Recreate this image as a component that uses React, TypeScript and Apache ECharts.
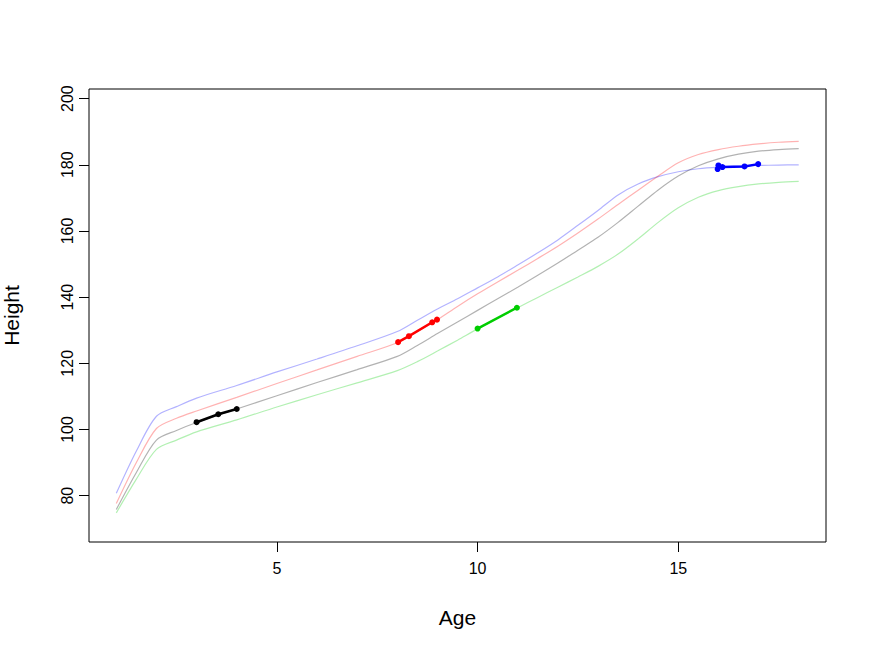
import React, { useEffect, useRef } from "react";
import * as echarts from "echarts";

// Reference growth curves (age in years, height in cm)
const curveAges = [1, 1.5, 2, 2.5, 3, 4, 5, 6, 7, 8, 8.5, 9, 9.5, 10, 10.5, 11, 11.5, 12, 12.5, 13, 13.5, 14, 14.5, 15, 15.5, 16, 16.5, 17, 17.5, 18];
const curveBlue = [80.7, 93.5, 104.0, 106.9, 109.5, 113.3, 117.4, 121.3, 125.3, 129.6, 133.0, 136.4, 139.5, 142.8, 146.1, 149.7, 153.4, 157.3, 161.7, 166.2, 170.9, 174.2, 176.4, 177.9, 178.8, 179.3, 179.6, 179.8, 179.9, 180.0];
const curveRed = [77.6, 90.0, 100.3, 103.4, 105.6, 109.7, 113.9, 118.0, 122.1, 126.2, 129.6, 133.2, 137.2, 141.0, 144.6, 148.1, 151.7, 155.4, 159.4, 163.6, 168.0, 172.3, 176.6, 180.6, 183.1, 184.6, 185.6, 186.3, 186.8, 187.1];
const curveGray = [75.8, 87.0, 96.8, 99.7, 102.1, 106.2, 110.2, 114.2, 118.1, 122.1, 125.4, 129.0, 132.5, 136.0, 139.5, 143.0, 146.6, 150.3, 154.2, 158.1, 162.6, 167.5, 172.4, 176.6, 179.7, 181.8, 183.2, 184.1, 184.6, 184.9];
const curveGreen = [74.8, 85.0, 94.0, 96.8, 99.3, 102.9, 106.8, 110.5, 114.1, 117.8, 120.5, 123.7, 127.0, 130.4, 133.6, 136.8, 139.9, 143.0, 146.1, 149.3, 153.0, 157.6, 162.6, 167.0, 170.2, 172.2, 173.4, 174.2, 174.7, 175.0];

// Observed measurements (individual children)
const blackAges = [3.0, 3.54, 4.0];
const blackHeights = [102.2, 104.6, 106.2];
const redAges = [8.02, 8.29, 8.87, 8.99];
const redHeights = [126.4, 128.2, 132.4, 133.2];
const greenAges = [10.0, 10.98];
const greenHeights = [130.5, 136.8];
const blueAges = [15.98, 16.0, 16.1, 16.65, 16.99];
const blueHeights = [178.7, 179.8, 179.3, 179.5, 180.2];

// Axis ticks
const xTicks = [5, 10, 15];
const yTicks = [80, 100, 120, 140, 160, 180, 200];

const FONT = "Liberation Sans, Arial, Helvetica, sans-serif";

const zip = (xs: number[], ys: number[]) => xs.map((x, i) => [x, ys[i]]);

export default function App() {
  const ref = useRef<HTMLDivElement>(null);
  useEffect(() => {
    document.body.style.margin = "0";
    if (!ref.current) return;
    const chart = echarts.init(ref.current, null, { renderer: "svg" });

    const curve = (name: string, ys: number[], color: string) => ({
      name,
      type: "line",
      data: zip(curveAges, ys),
      showSymbol: false,
      smooth: 0.3,
      lineStyle: { color, width: 1.2 },
      z: 2,
      silent: true,
    });
    const obs = (name: string, xs: number[], ys: number[], color: string) => ({
      name,
      type: "line",
      data: zip(xs, ys),
      symbol: "circle",
      symbolSize: 6,
      showSymbol: true,
      itemStyle: { color },
      lineStyle: { color, width: 2.5 },
      z: 5,
      silent: true,
    });

    chart.setOption({
      animation: false,
      backgroundColor: "#ffffff",
      grid: {
        left: 89,
        right: 46,
        top: 89,
        bottom: 112,
        containLabel: false,
        outerBoundsMode: "none",
        show: true,
        borderColor: "#000000",
        borderWidth: 1,
        backgroundColor: "transparent",
      },
      xAxis: {
        type: "value",
        min: 0.32,
        max: 18.68,
        name: "Age",
        nameLocation: "middle",
        nameGap: 65,
        nameTextStyle: { fontFamily: FONT, fontSize: 21, color: "#000" },
        axisLine: { show: false },
        splitLine: { show: false },
        axisTick: {
          show: true,
          customValues: xTicks,
          length: 10,
          lineStyle: { color: "#000", width: 1 },
        },
        axisLabel: {
          customValues: xTicks,
          margin: 18,
          fontFamily: FONT,
          fontSize: 16,
          color: "#000",
        },
      },
      yAxis: {
        type: "value",
        min: 66.0,
        max: 202.9,
        name: "Height",
        nameLocation: "middle",
        nameRotate: 90,
        nameGap: 67,
        nameTextStyle: { fontFamily: FONT, fontSize: 21, color: "#000" },
        axisLine: { show: false },
        splitLine: { show: false },
        axisTick: {
          show: true,
          customValues: yTicks,
          length: 10,
          lineStyle: { color: "#000", width: 1 },
        },
        axisLabel: {
          customValues: yTicks,
          rotate: 90,
          margin: 14,
          fontFamily: FONT,
          fontSize: 16,
          color: "#000",
        },
      },
      series: [
        curve("Blue curve", curveBlue, "rgba(0,0,255,0.3)"),
        curve("Red curve", curveRed, "rgba(255,0,0,0.3)"),
        curve("Gray curve", curveGray, "rgba(0,0,0,0.3)"),
        curve("Green curve", curveGreen, "rgba(0,205,0,0.3)"),
        obs("Child 1", blackAges, blackHeights, "#000000"),
        obs("Child 2", redAges, redHeights, "#ff0000"),
        obs("Child 3", greenAges, greenHeights, "#00cd00"),
        obs("Child 4", blueAges, blueHeights, "#0000ff"),
      ],
    });
    return () => chart.dispose();
  }, []);
  return <div ref={ref} style={{ width: 872, height: 654 }} />;
}
